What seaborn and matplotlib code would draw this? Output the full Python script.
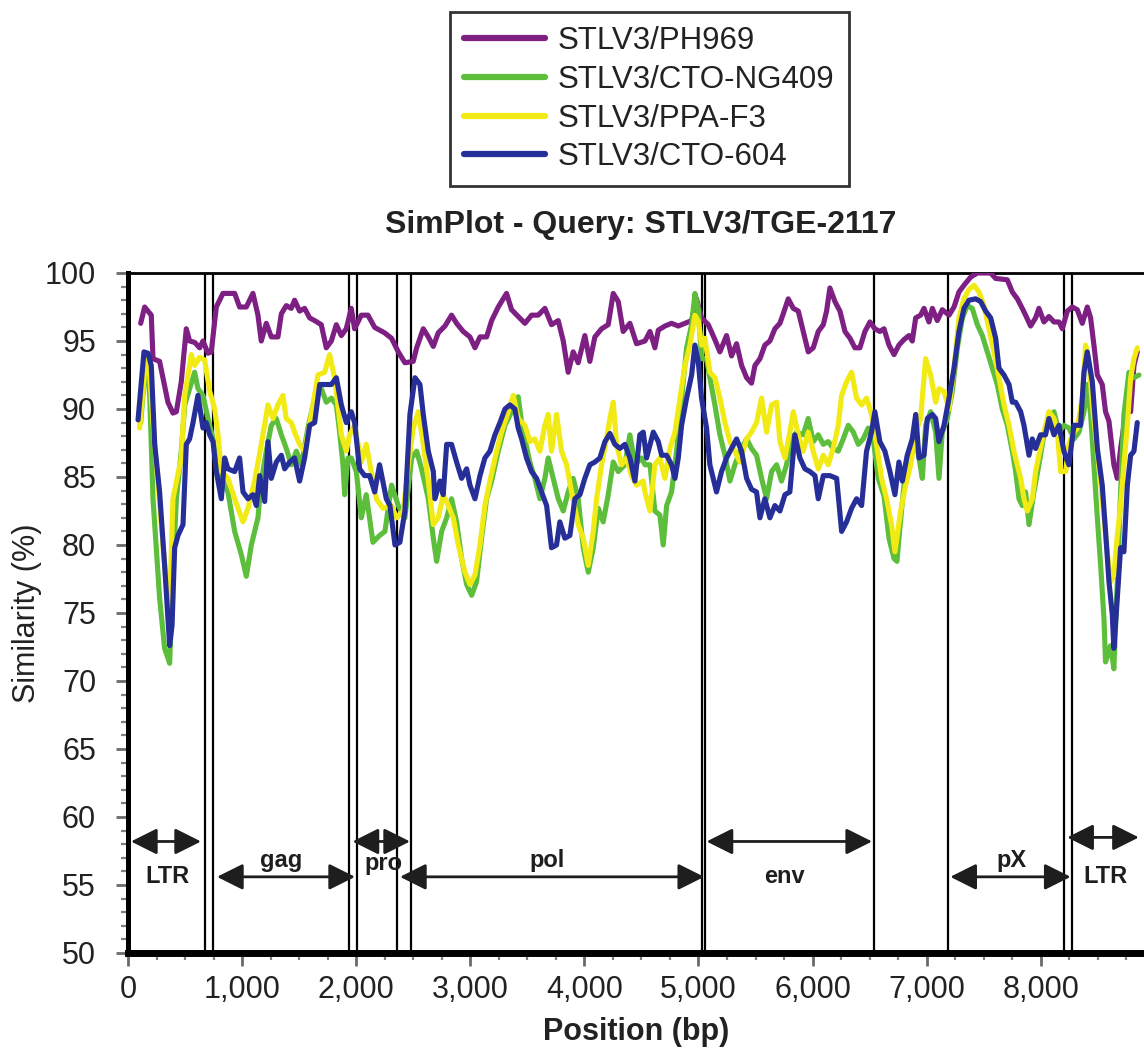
import numpy as np
import pandas as pd
import matplotlib
matplotlib.use('Agg')
import matplotlib.pyplot as plt
from matplotlib.ticker import MultipleLocator, FuncFormatter
import seaborn as sns

# similarity traces (position in bp, similarity in %)
ph969_pos = [111, 146, 204, 219, 277, 350, 394, 424, 467, 511, 540, 584, 628, 657, 701, 730, 774, 832, 935, 978,
             1037, 1095, 1139, 1168, 1212, 1256, 1314, 1344, 1387, 1431, 1460, 1504, 1548, 1592, 1636, 1694, 1738,
             1782, 1826, 1870, 1913, 1957, 1986, 2045, 2103, 2162, 2249, 2310, 2369, 2427, 2500, 2530, 2588, 2632,
             2676, 2719, 2778, 2836, 2880, 2938, 2997, 3041, 3085, 3143, 3187, 3245, 3318, 3362, 3420, 3479, 3537,
             3595, 3654, 3712, 3771, 3815, 3858, 3902, 3946, 4004, 4048, 4092, 4151, 4209, 4253, 4297, 4340, 4399,
             4457, 4531, 4575, 4618, 4648, 4706, 4764, 4823, 4881, 4940, 4983, 5027, 5086, 5144, 5188, 5246, 5290,
             5334, 5378, 5422, 5465, 5495, 5539, 5582, 5626, 5670, 5714, 5743, 5787, 5831, 5875, 5918, 5962, 6006,
             6050, 6094, 6123, 6152, 6196, 6240, 6284, 6328, 6371, 6415, 6459, 6503, 6546, 6590, 6626, 6670, 6714,
             6757, 6801, 6845, 6874, 6904, 6947, 6977, 7020, 7050, 7093, 7137, 7196, 7240, 7283, 7327, 7386, 7444,
             7561, 7605, 7707, 7751, 7795, 7838, 7867, 7911, 7955, 7984, 8028, 8072, 8116, 8160, 8189, 8233, 8276,
             8320, 8364, 8408, 8437, 8466, 8496, 8539, 8568, 8598, 8641, 8671, 8700, 8729, 8759, 8788, 8817, 8846]
ph969_sim = [96.3, 97.5, 96.9, 93.7, 93.5, 90.5, 89.7, 89.8, 92.0, 95.9, 95.0, 94.9, 94.5, 95.0, 94.1, 94.2, 97.5,
             98.5, 98.5, 97.5, 97.5, 98.5, 96.9, 95.0, 96.3, 95.3, 95.3, 97.0, 97.6, 97.4, 98.0, 97.2, 97.4, 96.7,
             96.5, 96.2, 94.5, 95.0, 96.2, 95.4, 95.9, 97.4, 95.9, 96.9, 96.9, 96.0, 95.6, 95.2, 94.2, 93.4, 93.5,
             94.5, 95.9, 95.3, 94.6, 95.6, 96.1, 96.9, 96.3, 95.7, 95.3, 94.5, 95.3, 95.3, 96.5, 97.5, 98.5, 97.3,
             96.8, 96.3, 96.9, 96.9, 97.4, 96.2, 96.5, 95.0, 92.7, 94.2, 93.4, 95.4, 93.5, 95.3, 95.9, 96.2, 98.5,
             97.9, 95.7, 96.3, 94.8, 95.0, 95.7, 94.5, 95.8, 96.1, 96.3, 96.1, 96.3, 96.5, 98.1, 96.7, 96.2, 95.1,
             94.2, 95.4, 93.9, 94.8, 93.2, 92.3, 91.9, 93.2, 93.7, 94.7, 95.0, 95.9, 96.3, 97.0, 98.1, 97.4, 97.2,
             95.7, 94.2, 94.5, 95.7, 96.2, 97.2, 98.9, 97.9, 97.2, 95.7, 95.2, 94.5, 94.5, 95.7, 96.4, 95.9, 95.7,
             95.9, 94.7, 94.0, 94.7, 95.1, 95.4, 95.0, 96.7, 96.9, 97.4, 96.4, 97.4, 96.5, 97.3, 96.9, 97.5, 98.6,
             99.1, 99.7, 100.0, 100.0, 99.6, 99.5, 98.6, 98.1, 97.4, 96.9, 96.1, 96.7, 97.4, 96.4, 96.8, 96.4, 96.4,
             95.9, 97.2, 97.5, 97.3, 96.3, 97.5, 96.7, 94.7, 92.5, 91.8, 89.8, 89.1, 85.9, 84.9, 87.1, 88.8, 91.0,
             89.8, 93.2, 94.2]

ng409_pos = [111, 160, 190, 219, 277, 321, 365, 394, 424, 467, 497, 540, 584, 613, 657, 701, 745, 789, 832, 876,
             935, 993, 1037, 1081, 1139, 1168, 1212, 1256, 1300, 1344, 1387, 1431, 1475, 1519, 1577, 1636, 1694,
             1738, 1782, 1826, 1855, 1884, 1899, 1928, 1957, 2001, 2045, 2088, 2147, 2205, 2252, 2310, 2369, 2427,
             2486, 2530, 2573, 2632, 2676, 2705, 2749, 2793, 2836, 2880, 2924, 2968, 3012, 3055, 3099, 3143, 3187,
             3245, 3304, 3362, 3420, 3450, 3479, 3522, 3566, 3610, 3654, 3683, 3727, 3771, 3815, 3858, 3902, 3946,
             3990, 4034, 4078, 4122, 4165, 4209, 4253, 4297, 4355, 4399, 4443, 4501, 4531, 4575, 4618, 4662, 4691,
             4721, 4764, 4808, 4852, 4896, 4940, 4969, 4998, 5027, 5071, 5100, 5144, 5188, 5232, 5276, 5319, 5363,
             5422, 5465, 5509, 5553, 5597, 5641, 5685, 5728, 5772, 5816, 5860, 5918, 5962, 6006, 6050, 6094, 6137,
             6181, 6225, 6269, 6313, 6357, 6401, 6444, 6488, 6532, 6576, 6626, 6670, 6714, 6740, 6757, 6801, 6845,
             6889, 6933, 6962, 6991, 7035, 7079, 7108, 7137, 7181, 7225, 7269, 7313, 7356, 7400, 7444, 7488, 7532,
             7575, 7619, 7663, 7707, 7751, 7780, 7809, 7838, 7867, 7897, 7940, 7984, 8028, 8072, 8116, 8160, 8203,
             8247, 8291, 8335, 8379, 8408, 8437, 8466, 8496, 8525, 8554, 8568, 8612, 8641, 8671, 8700, 8729, 8773,
             8817, 8861]
ng409_sim = [89.0, 94.0, 91.0, 83.4, 76.1, 72.4, 71.3, 78.0, 83.4, 86.9, 90.3, 91.5, 92.7, 91.5, 91.0, 89.3, 87.8,
             85.4, 84.7, 83.9, 81.0, 79.3, 77.7, 80.0, 82.0, 84.7, 86.9, 88.8, 89.3, 88.1, 87.1, 85.9, 86.9, 85.9,
             88.6, 90.8, 91.5, 90.5, 90.8, 90.3, 88.3, 85.9, 83.7, 86.4, 86.4, 85.4, 82.0, 83.7, 80.2, 80.7, 81.0,
             84.4, 82.9, 82.0, 86.4, 86.9, 85.6, 83.4, 80.5, 78.8, 81.0, 82.0, 83.4, 81.7, 79.0, 77.1, 76.3, 77.3,
             80.5, 83.4, 84.7, 86.9, 88.8, 89.8, 90.9, 89.0, 87.8, 86.1, 84.9, 83.4, 84.9, 86.4, 84.9, 83.4, 82.5,
             83.9, 84.9, 83.4, 79.8, 78.0, 79.8, 82.7, 81.7, 83.7, 86.1, 85.4, 85.9, 88.1, 85.9, 86.4, 85.9, 85.9,
             82.5, 82.2, 80.0, 82.9, 83.9, 86.9, 90.8, 94.5, 96.2, 98.5, 97.4, 93.7, 93.7, 92.3, 90.3, 88.1, 86.6,
             84.7, 85.9, 86.9, 87.8, 87.1, 86.6, 84.9, 83.4, 85.4, 85.9, 84.7, 85.9, 87.8, 88.3, 88.1, 89.3, 87.6,
             88.1, 87.4, 87.6, 87.1, 86.9, 87.8, 88.8, 88.3, 87.4, 87.8, 88.6, 87.8, 84.9, 83.6, 80.5, 79.0, 78.8,
             80.5, 84.4, 85.9, 88.3, 86.4, 84.9, 88.8, 89.8, 88.3, 84.9, 88.3, 89.3, 91.3, 94.5, 96.7, 97.6, 97.4,
             96.2, 95.4, 94.2, 93.0, 91.8, 90.0, 88.8, 86.9, 85.4, 83.4, 82.9, 83.9, 81.5, 83.9, 85.9, 88.1, 89.1,
             89.8, 88.3, 88.8, 88.6, 87.8, 88.3, 89.8, 91.8, 89.6, 85.9, 82.0, 78.5, 74.6, 71.4, 72.6, 70.9, 77.3,
             83.9, 89.6, 92.7, 92.3, 92.5]

ppaf3_pos = [102, 160, 190, 219, 277, 321, 365, 394, 467, 497, 555, 584, 628, 672, 716, 760, 789, 818, 876, 935,
             1008, 1052, 1110, 1168, 1227, 1271, 1314, 1358, 1387, 1431, 1460, 1504, 1548, 1607, 1665, 1723, 1767,
             1811, 1870, 1913, 1943, 1986, 2045, 2088, 2132, 2176, 2235, 2310, 2354, 2413, 2457, 2500, 2544, 2588,
             2632, 2676, 2719, 2763, 2807, 2851, 2895, 2953, 2997, 3041, 3085, 3128, 3172, 3231, 3274, 3333, 3377,
             3420, 3479, 3522, 3566, 3610, 3654, 3683, 3712, 3756, 3800, 3844, 3888, 3946, 3990, 4034, 4078, 4107,
             4151, 4194, 4224, 4253, 4282, 4326, 4370, 4413, 4457, 4516, 4531, 4575, 4618, 4662, 4706, 4750, 4794,
             4838, 4881, 4925, 4969, 4998, 5027, 5056, 5100, 5144, 5188, 5232, 5276, 5319, 5363, 5422, 5465, 5509,
             5553, 5597, 5641, 5685, 5714, 5758, 5801, 5831, 5875, 5918, 5962, 6006, 6050, 6094, 6137, 6181, 6225,
             6255, 6298, 6342, 6386, 6430, 6473, 6517, 6561, 6605, 6649, 6692, 6722, 6772, 6816, 6860, 6904, 6947,
             6991, 7035, 7079, 7108, 7152, 7196, 7240, 7283, 7327, 7371, 7415, 7459, 7502, 7546, 7590, 7634, 7678,
             7722, 7765, 7795, 7824, 7853, 7882, 7926, 7955, 7984, 8028, 8072, 8116, 8145, 8174, 8218, 8247, 8276,
             8320, 8364, 8393, 8422, 8452, 8496, 8539, 8583, 8612, 8641, 8671, 8700, 8729, 8759, 8788, 8817, 8846]
ppaf3_sim = [88.6, 94.0, 92.5, 89.0, 83.0, 78.5, 75.3, 83.4, 86.4, 91.0, 94.0, 93.2, 93.8, 93.6, 91.3, 90.0, 88.1,
             85.4, 84.9, 83.4, 81.7, 82.7, 84.7, 87.4, 90.3, 89.3, 90.3, 91.0, 89.3, 89.0, 88.3, 87.4, 86.9, 89.6,
             92.5, 92.7, 94.0, 92.3, 88.1, 86.9, 88.1, 88.8, 86.1, 87.4, 85.4, 83.4, 82.7, 82.9, 82.0, 82.5, 85.9,
             88.6, 89.8, 87.4, 84.7, 81.5, 82.0, 83.7, 82.9, 82.0, 80.0, 78.0, 77.1, 77.8, 80.0, 82.9, 84.7, 86.9,
             88.3, 89.8, 91.0, 89.3, 88.8, 87.6, 87.8, 86.9, 88.8, 89.6, 86.9, 89.6, 86.9, 85.9, 83.9, 81.5, 80.5,
             78.5, 81.0, 83.4, 85.9, 87.8, 89.3, 90.5, 87.4, 85.9, 86.4, 85.1, 84.4, 84.7, 83.9, 82.5, 85.9, 86.4,
             84.9, 87.1, 88.3, 90.8, 93.2, 94.7, 96.9, 96.5, 94.7, 95.2, 92.7, 92.3, 90.8, 89.0, 87.6, 86.9, 86.1,
             87.8, 88.3, 89.0, 90.8, 88.3, 90.3, 90.5, 87.6, 86.4, 88.3, 89.8, 88.1, 86.9, 88.3, 86.9, 85.6, 86.6,
             85.9, 87.1, 88.8, 91.0, 92.0, 92.7, 90.8, 90.3, 90.8, 89.6, 87.4, 84.9, 83.4, 81.5, 79.5, 82.5, 84.4,
             85.9, 88.3, 89.3, 93.7, 92.5, 90.5, 91.5, 91.3, 90.0, 93.0, 96.7, 98.1, 98.8, 99.1, 98.6, 97.6, 95.9,
             94.2, 92.3, 90.3, 88.8, 86.9, 85.9, 84.9, 83.4, 82.5, 83.4, 85.4, 86.6, 88.3, 89.8, 89.3, 88.3, 85.4,
             85.4, 87.4, 88.1, 88.6, 90.8, 94.7, 93.5, 90.3, 86.9, 83.4, 79.5, 77.3, 77.8, 80.7, 82.9, 85.9, 88.8,
             92.3, 93.7, 94.5]

cto604_pos = [88, 140, 175, 204, 234, 277, 321, 365, 386, 409, 438, 482, 511, 540, 570, 613, 657, 686, 716, 745,
              774, 818, 847, 876, 935, 978, 1008, 1052, 1095, 1125, 1154, 1198, 1227, 1256, 1300, 1344, 1373, 1417,
              1460, 1504, 1548, 1592, 1636, 1680, 1738, 1782, 1826, 1870, 1913, 1957, 1986, 2030, 2074, 2118, 2162,
              2205, 2264, 2296, 2340, 2383, 2427, 2471, 2515, 2559, 2588, 2632, 2676, 2690, 2734, 2763, 2793, 2836,
              2880, 2924, 2968, 2997, 3041, 3085, 3128, 3172, 3216, 3260, 3304, 3347, 3391, 3420, 3450, 3493, 3537,
              3581, 3625, 3669, 3712, 3756, 3785, 3829, 3873, 3917, 3961, 4004, 4048, 4092, 4136, 4180, 4224, 4267,
              4311, 4355, 4399, 4443, 4486, 4516, 4545, 4604, 4648, 4677, 4721, 4764, 4794, 4823, 4852, 4896, 4940,
              4969, 4998, 5027, 5071, 5100, 5129, 5158, 5202, 5246, 5290, 5334, 5378, 5422, 5465, 5509, 5539, 5582,
              5626, 5670, 5714, 5758, 5801, 5845, 5889, 5933, 5977, 6021, 6050, 6094, 6152, 6211, 6255, 6298, 6342,
              6386, 6430, 6473, 6517, 6546, 6590, 6634, 6678, 6722, 6757, 6787, 6830, 6874, 6904, 6933, 6977, 7006,
              7050, 7079, 7108, 7152, 7196, 7240, 7283, 7327, 7371, 7429, 7473, 7517, 7561, 7605, 7634, 7678, 7722,
              7751, 7780, 7824, 7853, 7897, 7926, 7955, 7998, 8042, 8072, 8116, 8160, 8203, 8247, 8291, 8349, 8379,
              8408, 8452, 8496, 8539, 8568, 8598, 8627, 8641, 8671, 8700, 8729, 8759, 8788, 8817, 8846]
cto604_sim = [89.2, 94.2, 94.1, 93.2, 87.4, 83.9, 78.5, 72.6, 74.1, 79.8, 80.7, 81.5, 87.4, 87.8, 89.0, 91.0, 88.6,
              89.0, 88.1, 87.6, 85.4, 83.4, 86.4, 85.6, 85.4, 86.4, 83.9, 83.4, 83.7, 82.9, 85.1, 83.2, 87.6, 84.9,
              86.1, 86.6, 85.6, 86.1, 86.4, 84.7, 86.4, 88.8, 89.0, 91.8, 91.8, 91.8, 92.3, 90.3, 89.0, 89.8, 89.0,
              85.6, 85.1, 85.1, 83.9, 85.9, 83.4, 82.9, 80.0, 80.2, 82.5, 89.6, 92.3, 91.8, 89.6, 86.9, 85.4, 83.4,
              84.7, 83.7, 87.4, 87.4, 86.1, 84.9, 85.6, 84.4, 83.4, 85.1, 86.4, 86.9, 88.1, 89.0, 90.0, 90.3, 90.0,
              88.6, 87.8, 86.4, 85.4, 84.9, 83.9, 82.9, 79.8, 80.0, 81.7, 80.5, 80.7, 83.4, 83.7, 84.9, 85.9, 86.1,
              86.4, 87.6, 88.2, 87.4, 87.1, 87.4, 86.4, 84.7, 88.1, 88.3, 86.4, 88.3, 87.6, 86.6, 86.6, 85.9, 84.9,
              86.4, 88.8, 90.8, 92.5, 94.7, 93.5, 90.8, 88.6, 85.9, 84.9, 83.9, 85.4, 86.4, 87.1, 87.8, 86.9, 84.9,
              84.1, 83.9, 82.0, 83.4, 82.0, 82.9, 82.5, 83.7, 83.9, 88.1, 86.4, 85.6, 85.4, 85.1, 83.4, 85.1, 85.1,
              84.9, 81.0, 81.7, 82.7, 83.4, 82.9, 86.9, 88.3, 89.8, 87.6, 86.9, 85.4, 83.7, 86.1, 84.7, 86.6, 87.8,
              89.6, 86.4, 86.6, 89.3, 89.6, 89.3, 87.6, 88.8, 90.8, 93.0, 95.7, 97.4, 98.0, 98.1, 97.9, 97.2, 96.7,
              95.2, 93.0, 92.5, 91.8, 90.5, 90.5, 89.8, 88.8, 86.6, 87.8, 87.1, 88.1, 88.1, 89.3, 88.1, 88.8, 86.9,
              85.9, 88.8, 88.8, 92.7, 94.2, 92.0, 87.1, 84.4, 81.0, 77.3, 74.9, 72.4, 76.1, 79.8, 79.5, 84.4, 86.6,
              86.9, 89.0]

series_names = ['STLV3/PH969', 'STLV3/CTO-NG409', 'STLV3/PPA-F3', 'STLV3/CTO-604']
series_colors = ['#7d1f83', '#5dbe3c', '#f2ea14', '#262f98']

# region boundaries (bp) and genome annotations
boundaries = [678, 745, 1937, 2004, 2360, 2480, 5030, 5058, 6540, 7183, 8203, 8272]
regions = ['LTR', 'gag', 'pro', 'pol', 'env', 'pX', 'LTR']
region_start = [26, 780, 1968, 2384, 5071, 7207, 8232]
region_end = [640, 1990, 2472, 5050, 6522, 8262, 8860]
arrow_y = [58.2, 55.6, 58.2, 55.6, 58.2, 55.6, 58.5]
label_x = [350, 1340, 2235, 3675, 5755, 7740, 8570]
label_y = [55.6, 56.8, 56.6, 56.8, 55.6, 56.8, 55.6]

frames = []
for name, pos, sim in zip(series_names,
                          [ph969_pos, ng409_pos, ppaf3_pos, cto604_pos],
                          [ph969_sim, ng409_sim, ppaf3_sim, cto604_sim]):
    frames.append(pd.DataFrame({'Position': pos, 'Similarity': sim, 'Strain': name}))
df = pd.concat(frames, ignore_index=True)

sns.set_style('ticks')
plt.rcParams['font.family'] = ['Liberation Sans', 'DejaVu Sans']

fig = plt.figure(figsize=(11.44, 10.5), dpi=100)
ax = fig.add_axes([128 / 1144, 97 / 1050, 1016 / 1144, 680 / 1050])

for b in boundaries:
    ax.axvline(b, color='black', lw=1.6, zorder=1)

sns.lineplot(data=df, x='Position', y='Similarity', hue='Strain', palette=series_colors,
             hue_order=series_names, estimator=None, sort=False, lw=3.7, ax=ax, zorder=3)

for name, x0, x1, ya, lx, ly in zip(regions, region_start, region_end, arrow_y, label_x, label_y):
    ax.annotate('', xy=(x0, ya), xytext=(x1, ya),
                arrowprops=dict(arrowstyle='<|-|>,head_length=0.8,head_width=0.4',
                                mutation_scale=20, color='#1e1e1e', lw=2, shrinkA=0, shrinkB=0))
    ax.text(lx, ly, name, ha='center', va='center', fontsize=17, fontweight='bold', color='#1e1e1e')

ax.set_xlim(0, 8905)
ax.set_ylim(50, 100)
ax.xaxis.set_major_locator(MultipleLocator(1000))
ax.xaxis.set_minor_locator(MultipleLocator(250))
ax.xaxis.set_major_formatter(FuncFormatter(lambda v, p: f'{v:,.0f}'))
ax.yaxis.set_major_locator(MultipleLocator(5))
ax.yaxis.set_minor_locator(MultipleLocator(1))
ax.tick_params(axis='both', which='major', direction='out', length=9, width=2, color='#6a6a6a',
               labelsize=22, labelcolor='#222222')
ax.tick_params(axis='both', which='minor', direction='out', length=5, width=1.6, color='#808080')
ax.tick_params(axis='x', which='major', pad=7)
ax.tick_params(axis='y', which='major', pad=14)

ax.spines['right'].set_visible(False)
ax.spines['left'].set_linewidth(3.6)
ax.spines['bottom'].set_linewidth(5)
ax.spines['top'].set_linewidth(2)
for s in ['left', 'bottom', 'top']:
    ax.spines[s].set_color('black')

ax.set_xlabel('Position (bp)', fontsize=22, fontweight='bold', color='#222222')
ax.set_ylabel('Similarity (%)', fontsize=22, color='#222222')
ax.xaxis.set_label_coords(0.5, -0.094)
ax.yaxis.set_label_coords(-0.085, 0.5)

fig.text(641 / 1144, 1 - 225 / 1050, 'SimPlot - Query: STLV3/TGE-2117', ha='center', va='center',
         fontsize=23, fontweight='bold', color='#222222')

handles, labels = ax.get_legend_handles_labels()
ax.get_legend().remove()
leg = fig.legend(handles, labels, loc='upper left', bbox_to_anchor=(450 / 1144, 1 - 12 / 1050),
                 borderaxespad=0, fontsize=22.5, frameon=True, fancybox=False, edgecolor='black',
                 handlelength=2.6, handletextpad=0.4, labelspacing=0.28, borderpad=0.45)
leg.get_frame().set_linewidth(2)
for line in leg.get_lines():
    line.set_linewidth(4.5)
for t in leg.get_texts():
    t.set_color('#222222')

fig.savefig('out.png', dpi=100)
